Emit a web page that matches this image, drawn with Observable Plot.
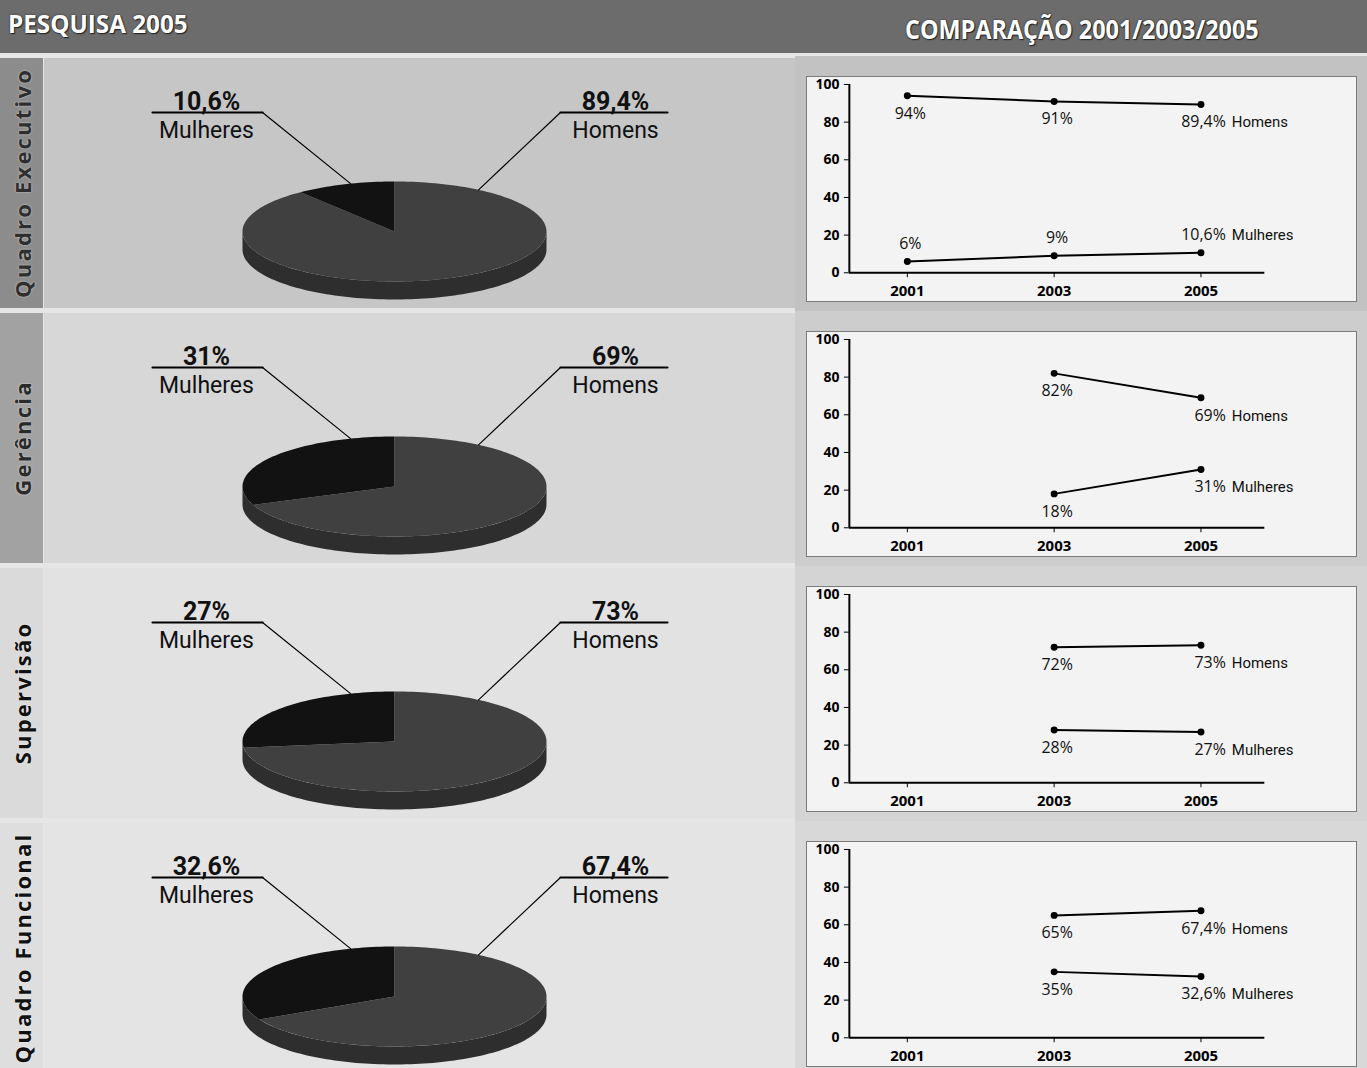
<!DOCTYPE html>
<html>
<head>
<meta charset="utf-8">
<script src="https://cdn.jsdelivr.net/npm/d3@7"></script>
<script src="https://cdn.jsdelivr.net/npm/@observablehq/plot@0.6"></script>
<style>
  body { margin:0; width:1367px; height:1068px; overflow:hidden; background:#e6e6e6; position:relative;
         font-family:"Open Sans", "DejaVu Sans", sans-serif; }
  .abs { position:absolute; }
  .header { left:0; top:0; width:1367px; height:53px; background:#6c6c6c; }
  .htext { position:absolute; color:#fff; font-weight:bold; font-family:"Open Sans",sans-serif;
           text-shadow:0 0 2px #222, 1px 1px 1px #222; white-space:nowrap; transform-origin:left center; }
  .strip { left:0; width:43px; height:250px; overflow:hidden; }
  .strip span { position:absolute; left:50%; top:50%; transform:translate(-50%,-50%) rotate(-90deg);
                font-weight:bold; font-size:22px; letter-spacing:2.2px; white-space:nowrap;
                text-shadow:0 0 2px rgba(255,255,255,0.7); }
  .left { left:44px; width:751px; height:250px; }
  .right { left:795px; width:572px; height:255px; }
  .box { position:absolute; left:11px; top:20px; width:551px; height:226px; background:#f3f3f3; box-sizing:border-box;
         border:1px solid #7a7a7a; }
  .box svg, .left svg { position:absolute; left:0; top:0; }
</style>
</head>
<body>
<script>
// ---------- data ----------
const categorias = ["Quadro Executivo", "Gerência", "Supervisão", "Quadro Funcional"];
const anos = [2001, 2003, 2005];
const mulheres2005 = [10.6, 31, 27, 32.6];
const homens2005 = [89.4, 69, 73, 67.4];
const homensHist = [[94, 91, 89.4], [null, 82, 69], [null, 72, 73], [null, 65, 67.4]];
const mulheresHist = [[6, 9, 10.6], [null, 18, 31], [null, 28, 27], [null, 35, 32.6]];
const yTicks = [0, 20, 40, 60, 80, 100];
const series = ["Homens", "Mulheres"];

// ---------- styles / layout ----------
const FONT = "Roboto, 'Open Sans', sans-serif";
const leftBg = ["#c6c6c6", "#d7d7d7", "#e2e2e2", "#e4e4e4"];
const stripBg = ["#8c8c8c", "#a2a2a2", "#dadada", "#dedede"];
const stripFg = ["#2e2e2e", "#2a2a2a", "#111", "#111"];
const rightBg = ["#c2c2c2", "#cdcdcd", "#d4d4d4", "#d8d8d8"];
const labelAbove = [[false, true], [false, false], [false, false], [false, false]];
const ROW0 = 58, PITCH = 255;

const fmt = v => String(v).replace(".", ",") + "%";

// header
const header = document.createElement("div");
header.className = "abs header";
header.innerHTML = `<span class="htext" style="left:8px;top:6px;font-size:25px;transform:scaleX(0.97)">PESQUISA 2005</span>
  <span class="htext" style="left:905px;top:11px;font-size:26px;transform:scaleX(0.9)">COMPARAÇÃO 2001/2003/2005</span>`;
document.body.appendChild(header);

// pie geometry helpers (unit radius; ellipse squash via scales)
const RX = 152, RY = 50, DEPTH = 18 / RY;
function arcPts(a0, a1, dy = 0) {
  const n = Math.max(2, Math.ceil(Math.abs(a1 - a0) / 0.03));
  return d3.range(n + 1).map(i => {
    const a = a0 + (a1 - a0) * i / n;
    return {x: Math.sin(a), y: Math.cos(a) - dy};
  });
}

function piePlot(i) {
  const arcs = d3.pie().sort(null).startAngle(0).endAngle(-2 * Math.PI)([mulheres2005[i], homens2005[i]]);
  const mArc = arcs[0], hArc = arcs[1];
  const mPoly = [{x: 0, y: 0}, ...arcPts(mArc.startAngle, mArc.endAngle)];
  const hPoly = [{x: 0, y: 0}, ...arcPts(hArc.startAngle, hArc.endAngle)];
  const side = [...arcPts(Math.PI / 2, 3 * Math.PI / 2), ...arcPts(3 * Math.PI / 2, Math.PI / 2, DEPTH)];
  // label layout (pie-radius units)
  const L = {x: -1.237, under: [-1.592, -0.868], rim: -0.289};
  const R = {x: 1.454, under: [1.092, 1.796], rim: 0.553};
  const yPct = 2.60, yName = 2.02, yUnder = 2.38;
  const rimY = x => Math.sqrt(1 - x * x);
  const W = 751, H = 250, CX = 350, CY = 173;
  const labels = [
    {x: L.x, y: yPct, t: fmt(mulheres2005[i]), b: true},
    {x: L.x, y: yName, t: "Mulheres", b: false},
    {x: R.x, y: yPct, t: fmt(homens2005[i]), b: true},
    {x: R.x, y: yName, t: "Homens", b: false}
  ];
  return Plot.plot({
    width: W, height: H, margin: 0,
    x: {domain: [-CX / RX, (W - CX) / RX], axis: null},
    y: {domain: [-(H - CY) / RY, CY / RY], axis: null},
    style: {background: "transparent", overflow: "visible"},
    marks: [
      Plot.line(side, {x: "x", y: "y", fill: "#2e2e2e", stroke: "none"}),
      Plot.line(hPoly, {x: "x", y: "y", fill: "#404040", stroke: "none"}),
      Plot.line(mPoly, {x: "x", y: "y", fill: "#121212", stroke: "none"}),
      Plot.line([{x: L.under[0], y: yUnder}, {x: L.under[1], y: yUnder}], {x: "x", y: "y", stroke: "#000", strokeWidth: 2.2}),
      Plot.line([{x: L.under[1], y: yUnder}, {x: L.rim, y: rimY(L.rim)}], {x: "x", y: "y", stroke: "#000", strokeWidth: 1.2}),
      Plot.line([{x: R.under[0], y: yUnder}, {x: R.under[1], y: yUnder}], {x: "x", y: "y", stroke: "#000", strokeWidth: 2.2}),
      Plot.line([{x: R.under[0], y: yUnder}, {x: R.rim, y: rimY(R.rim)}], {x: "x", y: "y", stroke: "#000", strokeWidth: 1.2}),
      Plot.text(labels.filter(d => d.b), {x: "x", y: "y", text: "t", fontSize: 25, fontWeight: "bold", fill: "#111",
        fontFamily: FONT, letterSpacing: 1}),
      Plot.text(labels.filter(d => !d.b), {x: "x", y: "y", text: "t", fontSize: 23, fill: "#111", fontFamily: FONT})
    ]
  });
}

function linePlot(i) {
  const data = [];
  series.forEach(s => {
    const vals = s === "Homens" ? homensHist[i] : mulheresHist[i];
    vals.forEach((v, j) => { if (v != null) data.push({serie: s, year: anos[j], value: v, last: j === anos.length - 1, above: labelAbove[i][series.indexOf(s)]}); });
  });
  const xDom = [2000.21, 2005.87];
  const marks = [
    Plot.axisY({ticks: yTicks, tickSize: 5, tickPadding: 5, fontSize: 14, fontWeight: "bold", label: null}),
    Plot.axisX({ticks: anos, tickSize: 5, tickPadding: 8, fontSize: 15, fontWeight: "bold", label: null, tickFormat: d => String(d)}),
    Plot.ruleX([xDom[0]], {y1: 0, y2: 100, stroke: "#000", strokeWidth: 2}),
    Plot.ruleY([0], {stroke: "#000", strokeWidth: 2}),
    Plot.line(data, {x: "year", y: "value", z: "serie", stroke: "#000", strokeWidth: 2}),
    Plot.dot(data, {x: "year", y: "value", r: 3.5, fill: "#000"})
  ];
  for (const above of [false, true]) {
    const dy = above ? -18 : 18;
    const sub = data.filter(d => d.above === above);
    marks.push(
      Plot.text(sub.filter(d => !d.last), {x: "year", y: "value", text: d => fmt(d.value), dx: 3, dy, fontSize: 16, letterSpacing: 1, fill: "#111", fontWeight: 500}),
      Plot.text(sub.filter(d => d.last), {x: "year", y: "value", text: d => fmt(d.value), dx: 25, dy, textAnchor: "end", fontSize: 16, letterSpacing: 1, fill: "#111", fontWeight: 500}),
      Plot.text(sub.filter(d => d.last), {x: "year", y: "value", text: "serie", dx: 31, dy, textAnchor: "start", fontSize: 15, fill: "#111", fontFamily: FONT})
    );
  }
  return Plot.plot({
    width: 551, height: 226, marginLeft: 42, marginRight: 92, marginTop: 7, marginBottom: 30,
    x: {domain: xDom, axis: null},
    y: {domain: [0, 100], axis: null},
    style: {background: "transparent", color: "#000", fontFamily: "'Open Sans', sans-serif", overflow: "visible"},
    marks
  });
}

categorias.forEach((cat, i) => {
  const top = ROW0 + PITCH * i;
  const strip = document.createElement("div");
  strip.className = "abs strip";
  strip.style.top = top + "px";
  strip.style.background = stripBg[i];
  strip.innerHTML = `<span style="color:${stripFg[i]}">${cat}</span>`;
  document.body.appendChild(strip);

  const left = document.createElement("div");
  left.className = "abs left";
  left.style.top = top + "px";
  left.style.background = leftBg[i];
  left.appendChild(piePlot(i));
  document.body.appendChild(left);

  const right = document.createElement("div");
  right.className = "abs right";
  right.style.top = (top - 2) + "px";
  right.style.background = rightBg[i];
  const box = document.createElement("div");
  box.className = "box";
  box.appendChild(linePlot(i));
  right.appendChild(box);
  document.body.appendChild(right);
});
</script>
</body>
</html>
